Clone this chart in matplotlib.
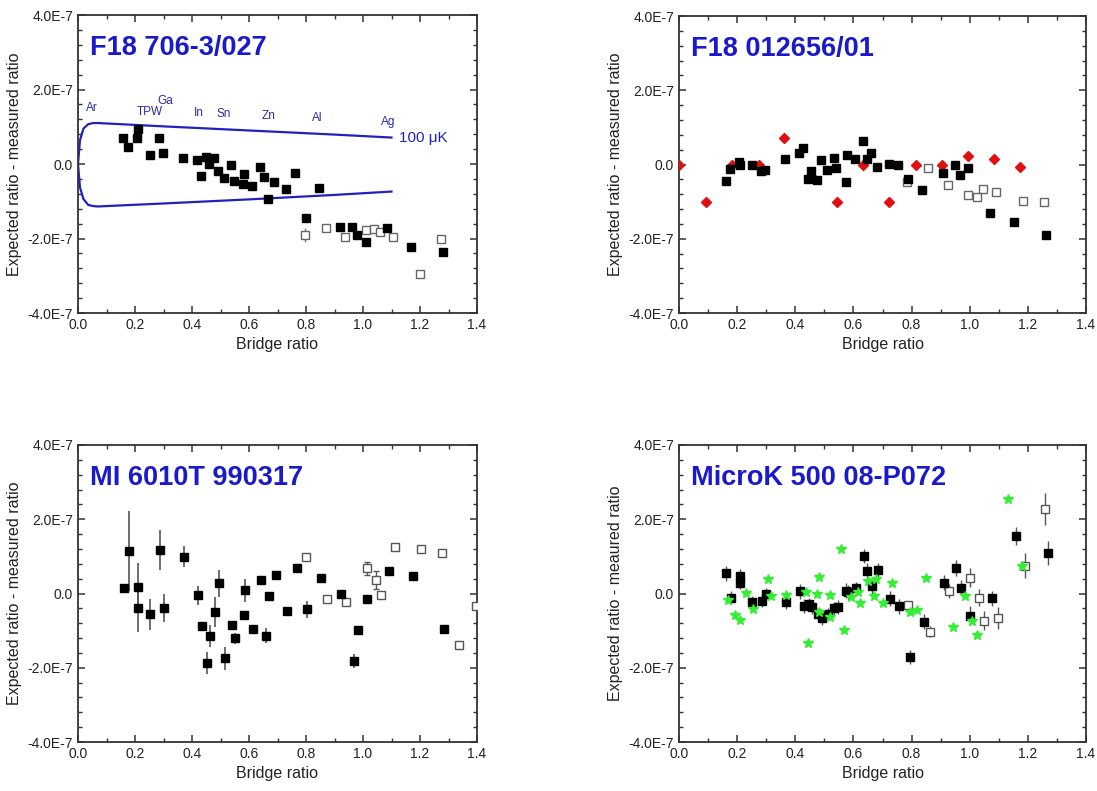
import numpy as np
import matplotlib
matplotlib.use('Agg')
import matplotlib.pyplot as plt
from matplotlib.ticker import MultipleLocator, FuncFormatter

plt.rcParams['font.family'] = ['Liberation Sans', 'DejaVu Sans']

E = 1e-7

# ---- panel 1: F18 706-3/027 ----
p1_x = [0.158, 0.177, 0.209, 0.208, 0.251, 0.284, 0.299, 0.369, 0.417, 0.431, 0.449, 0.460,
        0.477, 0.492, 0.513, 0.536, 0.546, 0.583, 0.579, 0.611, 0.639, 0.653, 0.688, 0.667,
        0.763, 0.730, 0.847, 0.800, 0.921, 0.960, 0.979, 1.009, 1.085, 1.170, 1.279]
p1_y = [0.71, 0.46, 0.95, 0.71, 0.23, 0.69, 0.30, 0.16, 0.12, -0.32, 0.20, -0.01,
        0.16, -0.20, -0.37, -0.03, -0.45, -0.28, -0.55, -0.59, -0.09, -0.35, -0.47, -0.93,
        -0.25, -0.67, -0.65, -1.45, -1.70, -1.70, -1.90, -2.09, -1.72, -2.23, -2.36]
p1_open_x = [0.795, 0.870, 0.938, 1.009, 1.040, 1.058, 1.105, 1.200, 1.272]
p1_open_y = [-1.91, -1.72, -1.96, -1.77, -1.74, -1.82, -1.96, -2.96, -2.01]
p1_open_err = [0.18, 0.06, 0.06, 0.04, 0.05, 0.05, 0.06, 0.06, 0.05]

# 100 uK band
band_x = [0.0, 0.007, 0.019, 0.036, 0.054, 0.07, 0.3, 0.6, 0.9, 1.1]
band_up = [0.0, 0.64, 0.95, 1.07, 1.10, 1.10, 1.01, 0.90, 0.79, 0.71]
band_lo = [0.0, -0.63, -0.94, -1.10, -1.13, -1.14, -1.06, -0.95, -0.83, -0.74]

fp_names = ['Ar', 'TPW', 'Ga', 'In', 'Sn', 'Zn', 'Al', 'Ag']
fp_x = [0.048, 0.252, 0.307, 0.425, 0.51, 0.67, 0.841, 1.09]
fp_y = [1.33, 1.24, 1.54, 1.21, 1.18, 1.12, 1.07, 0.97]

# ---- panel 2: F18 012656/01 ----
p2_x = [0.161, 0.177, 0.208, 0.210, 0.251, 0.283, 0.296, 0.366, 0.413, 0.427, 0.445, 0.455,
        0.473, 0.487, 0.510, 0.532, 0.541, 0.573, 0.578, 0.606, 0.632, 0.647, 0.661, 0.680,
        0.723, 0.753, 0.789, 0.837, 0.908, 0.948, 0.966, 0.995, 1.071, 1.153, 1.262]
p2_y = [-0.44, -0.12, 0.08, 0.0, -0.01, -0.17, -0.16, 0.15, 0.31, 0.45, -0.38, -0.18,
        -0.41, 0.12, -0.15, 0.18, -0.09, -0.48, 0.26, 0.16, 0.64, 0.14, 0.31, -0.07,
        0.02, -0.01, -0.39, -0.68, -0.23, -0.02, -0.29, -0.09, -1.31, -1.56, -1.91]
p2_open_x = [0.783, 0.858, 0.924, 0.995, 1.026, 1.045, 1.092, 1.183, 1.255]
p2_open_y = [-0.47, -0.09, -0.56, -0.81, -0.88, -0.67, -0.73, -0.99, -1.01]
p2_red_x = [0.0, 0.092, 0.182, 0.274, 0.362, 0.455, 0.544, 0.634, 0.723, 0.814, 0.905,
            0.995, 1.085, 1.174]
p2_red_y = [0.0, -1.02, 0.0, 0.0, 0.72, -0.31, -1.02, 0.0, -1.02, 0.0, 0.0, 0.22, 0.14, -0.07]

# ---- panel 3: MI 6010T 990317 ----
p3_x = [0.162, 0.180, 0.211, 0.209, 0.254, 0.286, 0.301, 0.371, 0.421, 0.434, 0.462, 0.452,
        0.482, 0.496, 0.517, 0.540, 0.550, 0.581, 0.587, 0.615, 0.643, 0.658, 0.671, 0.693,
        0.735, 0.768, 0.804, 0.853, 0.923, 0.982, 0.967, 1.013, 1.090, 1.175, 1.285]
p3_y = [0.16, 1.14, 0.18, -0.39, -0.56, 1.18, -0.38, 0.99, -0.05, -0.87, -1.15, -1.87,
        -0.50, 0.27, -1.75, -0.84, -1.21, -0.57, 0.09, -0.95, 0.36, -1.14, -0.06, 0.51,
        -0.46, 0.70, -0.43, 0.41, -0.01, -0.99, -1.82, -0.15, 0.61, 0.46, -0.95]
p3_err = [0.04, 1.08, 0.65, 0.65, 0.41, 0.54, 0.38, 0.28, 0.26, 0.05, 0.29, 0.30,
          0.40, 0.36, 0.32, 0.05, 0.14, 0.05, 0.31, 0.05, 0.05, 0.20, 0.05, 0.05,
          0.05, 0.08, 0.24, 0.05, 0.08, 0.10, 0.20, 0.05, 0.08, 0.08, 0.05]
p3_open_x = [0.800, 0.875, 0.942, 1.013, 1.044, 1.064, 1.111, 1.205, 1.278, 1.338, 1.397]
p3_open_y = [0.98, -0.15, -0.24, 0.68, 0.36, -0.03, 1.24, 1.19, 1.10, -1.40, -0.34]
p3_open_err = [0.04, 0.08, 0.04, 0.18, 0.25, 0.04, 0.04, 0.06, 0.04, 0.04, 0.04]

# ---- panel 4: MicroK 500 08-P072 ----
p4_x = [0.162, 0.180, 0.210, 0.211, 0.252, 0.285, 0.298, 0.368, 0.416, 0.429, 0.448, 0.459,
        0.479, 0.491, 0.512, 0.534, 0.546, 0.576, 0.581, 0.608, 0.636, 0.648, 0.664, 0.684,
        0.726, 0.758, 0.842, 0.794, 0.913, 0.952, 0.971, 1.000, 1.076, 1.159, 1.268]
p4_y = [0.54, -0.11, 0.47, 0.29, -0.24, -0.19, -0.01, -0.24, 0.06, -0.34, -0.27, -0.36,
        -0.54, -0.67, -0.54, -0.40, -0.36, 0.07, 0.03, 0.14, 1.01, 0.61, 0.20, 0.62,
        -0.14, -0.34, -0.76, -1.71, 0.29, 0.68, 0.16, -0.60, -0.13, 1.55, 1.09]
p4_err = [0.2, 0.18, 0.18, 0.18, 0.18, 0.18, 0.15, 0.18, 0.2, 0.18, 0.15, 0.18,
          0.15, 0.18, 0.15, 0.18, 0.18, 0.2, 0.2, 0.18, 0.2, 0.2, 0.2, 0.2,
          0.2, 0.2, 0.2, 0.2, 0.2, 0.22, 0.2, 0.25, 0.2, 0.25, 0.32]
p4_open_x = [0.789, 0.863, 0.928, 1.000, 1.031, 1.048, 1.096, 1.189, 1.260]
p4_open_y = [-0.32, -1.03, 0.07, 0.43, -0.11, -0.73, -0.66, 0.75, 2.28]
p4_open_err = [0.1, 0.15, 0.18, 0.25, 0.22, 0.25, 0.3, 0.34, 0.43]
p4_star_x = [0.170, 0.193, 0.211, 0.230, 0.255, 0.306, 0.315, 0.368, 0.436, 0.445, 0.473,
             0.483, 0.482, 0.520, 0.519, 0.556, 0.567, 0.590, 0.615, 0.624, 0.649, 0.670,
             0.679, 0.703, 0.734, 0.795, 0.819, 0.848, 0.943, 0.985, 1.007, 1.026, 1.130, 1.180]
p4_star_y = [-0.18, -0.59, -0.71, 0.02, -0.41, 0.40, -0.08, -0.04, 0.03, -1.32, -0.01,
             0.45, -0.49, -0.04, -0.64, 1.21, -0.99, -0.10, 0.05, -0.26, 0.34, -0.06,
             0.40, -0.26, 0.28, -0.49, -0.45, 0.41, -0.91, -0.06, -0.73, -1.11, 2.55, 0.74]

titles = ['F18 706-3/027', 'F18 012656/01', 'MI 6010T 990317', 'MicroK 500 08-P072']
ylabels = ['Expected ratio - measured ratio'] * 3 + ['Expected ratio - meaured ratio']

W, H = 1097, 791
fig = plt.figure(figsize=(W / 100, H / 100), dpi=100)

boxes = [(78, 15, 477, 313), (679, 16, 1086, 313), (78, 445, 477, 742), (679, 445, 1086, 742)]
axes = []
for (l, t, r, b) in boxes:
    axes.append(fig.add_axes([l / W, 1 - b / H, (r - l) / W, (b - t) / H]))

blue = '#1a1acc'
sq = dict(marker='s', ms=5.9, ls='none')


def fmt(v, pos):
    if abs(v) < 1e-12:
        return '0.0'
    return '%.1fE-7' % (v / E)


for i, ax in enumerate(axes):
    ax.set_xlim(0, 1.4)
    ax.set_ylim(-4 * E, 4 * E)
    ax.xaxis.set_major_locator(MultipleLocator(0.2))
    ax.xaxis.set_minor_locator(MultipleLocator(0.1))
    ax.yaxis.set_major_locator(MultipleLocator(2 * E))
    ax.yaxis.set_minor_locator(MultipleLocator(0.4 * E))
    ax.yaxis.set_major_formatter(FuncFormatter(fmt))
    ax.xaxis.set_major_formatter(FuncFormatter(lambda v, p: '%.1f' % v))
    ax.tick_params(which='both', direction='in', top=True, right=True, colors='#333333',
                   labelcolor='#222222', labelsize=10)
    ax.tick_params(which='major', length=5, width=1.1)
    ax.tick_params(which='minor', length=3, width=1.0)
    for s in ax.spines.values():
        s.set_color('#333333')
        s.set_linewidth(1.3)
    ax.set_xlabel('Bridge ratio', fontsize=11.5, color='#222222', labelpad=4)
    ax.set_ylabel(ylabels[i], fontsize=11.5, color='#222222', labelpad=4)
    ax.text(0.03, 0.866, titles[i], transform=ax.transAxes, fontsize=19.5,
            fontweight='bold', color=blue, va='baseline', ha='left')

# panel 1
ax = axes[0]
bx = np.array(band_x)
ax.plot(bx, np.array(band_up) * E, color='#2222bb', lw=1.6, zorder=2)
ax.plot(bx, np.array(band_lo) * E, color='#2222bb', lw=1.6, zorder=2)
for n, x, y in zip(fp_names, fp_x, fp_y):
    ax.text(x, y * E, n, fontsize=8.5, color='#2a2aa0', ha='center', va='bottom')
ax.text(1.125, 0.70 * E, '100 \u03bcK', fontsize=11, color='#2222bb', ha='left', va='center')
ax.errorbar(p1_open_x, np.array(p1_open_y) * E, yerr=np.array(p1_open_err) * E, marker='s',
            ms=5.5, ls='none', mfc='white', mec='#666666', mew=1.0, ecolor='#777777',
            elinewidth=1, zorder=3)
ax.plot(p1_x, np.array(p1_y) * E, color='black', zorder=4, **sq)

# panel 2
ax = axes[1]
ax.plot(p2_open_x, np.array(p2_open_y) * E, marker='s', ms=5.5, ls='none', mfc='white',
        mec='#666666', mew=1.0, zorder=3)
ax.plot(p2_red_x, np.array(p2_red_y) * E, marker='D', ms=5.5, ls='none', color='#e01010',
        zorder=3)
ax.plot(p2_x, np.array(p2_y) * E, color='black', zorder=4, **sq)

# panel 3
ax = axes[2]
ax.errorbar(p3_open_x, np.array(p3_open_y) * E, yerr=np.array(p3_open_err) * E, marker='s',
            ms=5.5, ls='none', mfc='white', mec='#555555', mew=1.0, ecolor='#555555',
            elinewidth=1, capsize=2, zorder=3)
ax.errorbar(p3_x, np.array(p3_y) * E, yerr=np.array(p3_err) * E, marker='s', ms=5.9,
            ls='none', color='black', ecolor='#555555', elinewidth=1.2, zorder=4)

# panel 4
ax = axes[3]
ax.errorbar(p4_open_x, np.array(p4_open_y) * E, yerr=np.array(p4_open_err) * E, marker='s',
            ms=5.5, ls='none', mfc='white', mec='#555555', mew=1.0, ecolor='#555555',
            elinewidth=1, zorder=3)
ax.errorbar(p4_x, np.array(p4_y) * E, yerr=np.array(p4_err) * E, marker='s', ms=5.9,
            ls='none', color='black', ecolor='#555555', elinewidth=1, zorder=4)
ax.plot(p4_star_x, np.array(p4_star_y) * E, marker='*', ms=7.5, ls='none', color='#33ee33',
        zorder=5)

fig.savefig('out.png', dpi=100)
